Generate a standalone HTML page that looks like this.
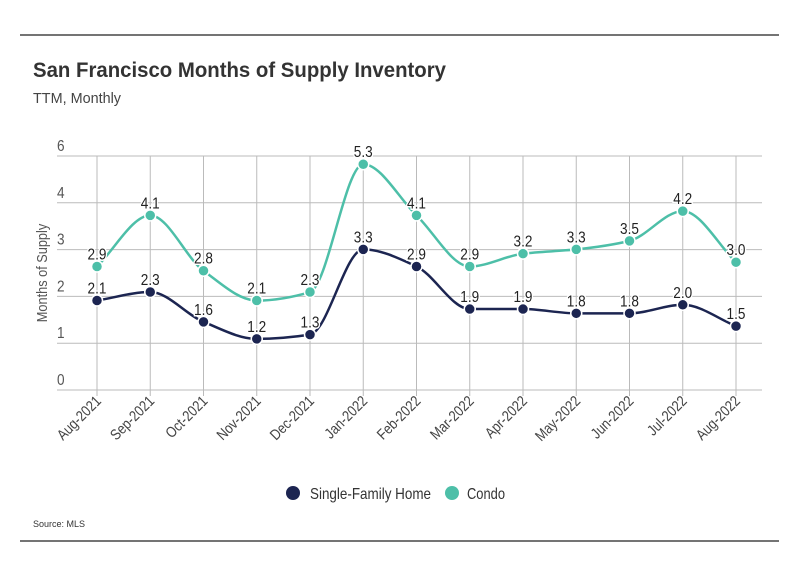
<!DOCTYPE html>
<html><head><meta charset="utf-8"><style>
body{margin:0;background:#fff;font-family:"Liberation Sans",sans-serif}
svg text{font-family:"Liberation Sans",sans-serif}
</style></head><body>
<svg id="chart" width="799" height="575" viewBox="0 0 799 575">
<line x1="20" y1="35" x2="779" y2="35" stroke="#222" stroke-width="1.2"/>
<text x="33" y="77" font-size="21" font-weight="bold" fill="#333" textLength="413" lengthAdjust="spacingAndGlyphs">San Francisco Months of Supply Inventory</text>
<text x="33" y="103" font-size="15" fill="#444" textLength="88" lengthAdjust="spacingAndGlyphs">TTM, Monthly</text>
<text transform="translate(47,273) rotate(-90) scale(0.85,1)" text-anchor="middle" font-size="15" fill="#555">Months of Supply</text>
<g id="grid"></g><g id="series"></g>
<g>
<circle cx="293" cy="493" r="7" fill="#1c2551"/>
<text x="310" y="499" font-size="16" fill="#333" textLength="121" lengthAdjust="spacingAndGlyphs">Single-Family Home</text>
<circle cx="452" cy="493" r="7" fill="#4dbfa8"/>
<text x="467" y="499" font-size="16" fill="#333" textLength="38" lengthAdjust="spacingAndGlyphs">Condo</text>
</g>
<text x="33" y="527" font-size="9" fill="#333">Source:  MLS</text>
<line x1="20" y1="541" x2="779" y2="541" stroke="#222" stroke-width="1.2"/>
</svg>
<script>
const categories=["Aug-2021","Sep-2021","Oct-2021","Nov-2021","Dec-2021","Jan-2022","Feb-2022","Mar-2022","Apr-2022","May-2022","Jun-2022","Jul-2022","Aug-2022"];
const sfhValues=[2.1,2.3,1.6,1.2,1.3,3.3,2.9,1.9,1.9,1.8,1.8,2.0,1.5];
const condoValues=[2.9,4.1,2.8,2.1,2.3,5.3,4.1,2.9,3.2,3.3,3.5,4.2,3.0];
const tickLabels=["0","1","2","3","4","6"];
const NS="http://www.w3.org/2000/svg";
const x0=97,dx=(736-97)/(categories.length-1);
const xs=i=>x0+i*dx;
const ys=v=>390-v*42.6;
const grid=document.getElementById('grid'),ser=document.getElementById('series');
function mk(tag,attrs,parent){const e=document.createElementNS(NS,tag);for(const k in attrs)e.setAttribute(k,attrs[k]);parent.appendChild(e);return e;}
tickLabels.forEach((t,i)=>{const y=390-i*46.8;
const l=mk('line',{x1:57,x2:762,y1:y,y2:y,stroke:'#bbb','stroke-width':1},grid);


const tx=mk('text',{transform:`translate(57,${y-5}) scale(0.85,1)`,'font-size':16,fill:'#555'},grid);tx.textContent=t;

});
categories.forEach((c,i)=>{const x=xs(i);
const l=mk('line',{x1:x,x2:x,y1:156,y2:396,stroke:'#bbb','stroke-width':1},grid);


const tx=mk('text',{transform:`translate(${x+5},${402}) rotate(-45) scale(0.85,1)`,'text-anchor':'end','font-size':15,fill:'#444'},grid);tx.textContent=c;

});
function path(vals){const p=vals.map((v,i)=>[xs(i),ys(v)]);const n=p.length;
const d=[],m=[];for(let i=0;i<n-1;i++)d.push((p[i+1][1]-p[i][1])/dx);
m[0]=d[0];m[n-1]=d[n-2];for(let i=1;i<n-1;i++){m[i]=(d[i-1]*d[i]<=0)?0:(2*d[i-1]*d[i])/(d[i-1]+d[i]);}
let s=`M${p[0][0]},${p[0][1]}`;for(let i=0;i<n-1;i++){const h=dx/3;s+=` C${p[i][0]+h},${p[i][1]+m[i]*h} ${p[i+1][0]-h},${p[i+1][1]-m[i+1]*h} ${p[i+1][0]},${p[i+1][1]}`;}return s;}
function draw(vals,color,name){
const pl=mk('path',{d:path(vals),fill:'none',stroke:color,'stroke-width':2.5},ser);


vals.forEach((v,i)=>{const c=mk('circle',{cx:xs(i),cy:ys(v),r:5.5,fill:color,stroke:'#fff','stroke-width':1.5},ser);


const t=mk('text',{transform:`translate(${xs(i)},${ys(v)-7}) scale(0.85,1)`,'text-anchor':'middle','font-size':16,fill:'#222',stroke:'#fff','stroke-width':3,'paint-order':'stroke'},ser);t.textContent=v.toFixed(1);

});}
draw(condoValues,'#4dbfa8','condo');
draw(sfhValues,'#1c2551','sfh');
</script>
</body></html>
